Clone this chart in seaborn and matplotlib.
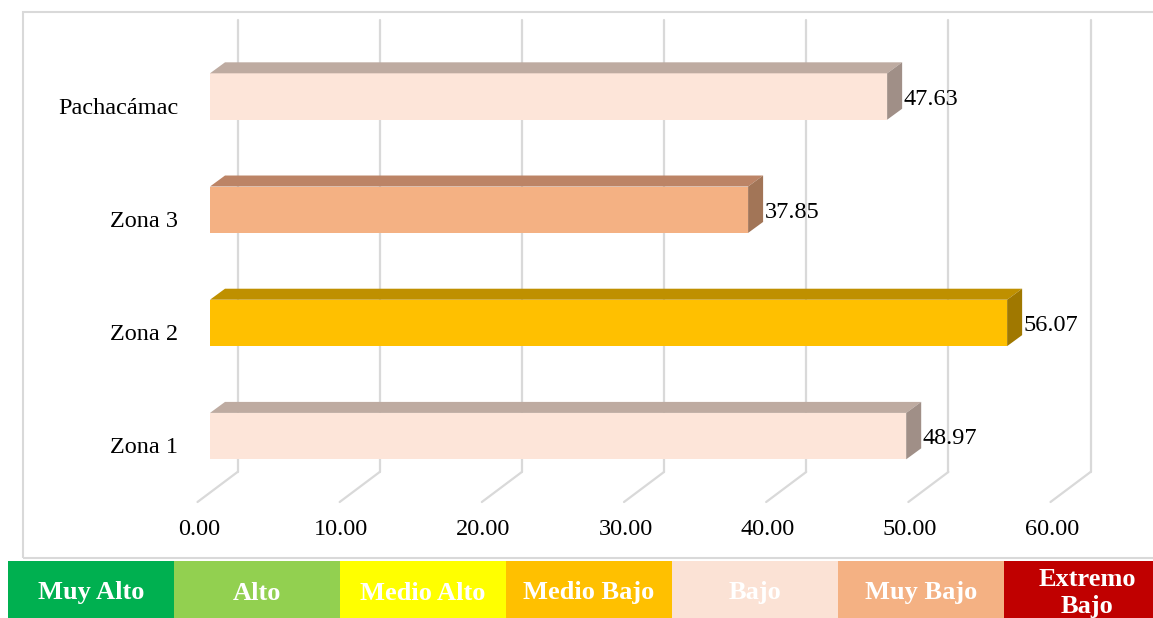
import numpy as np
import pandas as pd
import seaborn as sns
import matplotlib.pyplot as plt
from matplotlib.patches import Polygon, Rectangle
from matplotlib.colors import ListedColormap
from matplotlib.transforms import ScaledTranslation

# Data
zonas = ["Pachacámac", "Zona 3", "Zona 2", "Zona 1"]
valores = [47.63, 37.85, 56.07, 48.97]
ticks = [0, 10, 20, 30, 40, 50, 60]

# colours of each bar: front, top and side faces
frente = ["#FDE5D9", "#F4B183", "#FFC000", "#FDE5D9"]
techo = ["#BEABA1", "#BC8466", "#BF9000", "#BEABA1"]
lado = ["#A08F87", "#A27557", "#A07800", "#A08F87"]

niveles = ["Muy Alto", "Alto", "Medio Alto", "Medio Bajo", "Bajo", "Muy Bajo", "Extremo\nBajo"]
colores_niv = ["#00B050", "#92D050", "#FFFF00", "#FFC000", "#FBE2D5", "#F4B183", "#C00000"]

W, H = 1153, 618
sns.set_theme(style="white")
plt.rcParams["font.family"] = ["Liberation Serif", "DejaVu Serif"]

fig = plt.figure(figsize=(W / 100, H / 100), dpi=100)


def fx(px):
    return px / W


def fy(py):
    return 1 - py / H


# outer chart frame
fig.patches.append(Rectangle((fx(23), fy(558)), fx(1170) - fx(23), fy(12) - fy(558),
                             transform=fig.transFigure, fill=False,
                             edgecolor="#D9D9D9", lw=1.5))

# main axes: front plane of the bars
ax = fig.add_axes([fx(210), fy(472), fx(1063) - fx(210), fy(20) - fy(472)])
df = pd.DataFrame({"zona": zonas, "valor": valores})
sns.barplot(data=df, x="valor", y="zona", hue="zona", palette=frente, width=0.41,
            saturation=1, legend=False, ax=ax, zorder=2, linewidth=0)
ax.set_xlim(0, 60)
ax.set_ylim(3.317, -0.676)

ux = (1063 - 210) / 60.0          # px per unit (x)
uy = (472 - 20) / (3.317 + 0.676)  # px per category (y)
ddx, ddy = 15 / ux, 11 / uy        # bar depth
off = 27.5 / ux                    # back wall offset

# back wall gridlines + floor diagonals
for t in ticks:
    ax.plot([t + off, t + off], [-0.676, 3.317], color="#D9D9D9", lw=1.6,
            zorder=0.5, clip_on=False)
    ax.plot([t + off, t + off - 40 / ux], [3.317, 3.317 + 30 / uy], color="#D9D9D9",
            lw=1.6, zorder=0.5, clip_on=False)

# 3D faces on top of the seaborn bars
for p in ax.patches:
    y0, h, v = p.get_y(), p.get_height(), p.get_width()
    i = int(round(y0 + h / 2))
    top = y0  # inverted axis: smaller y is higher
    ax.add_patch(Polygon([(0, top), (v, top), (v + ddx, top - ddy), (ddx, top - ddy)],
                         closed=True, facecolor=techo[i], edgecolor="none", zorder=2))
    ax.add_patch(Polygon([(v, top), (v + ddx, top - ddy), (v + ddx, top + h - ddy),
                          (v, top + h)], closed=True, facecolor=lado[i],
                         edgecolor="none", zorder=2))
    ax.annotate(f"{valores[i]:.2f}", (v, i), xytext=(11.8, -2), textcoords="offset points",
                ha="left", va="center", fontsize=17.5, color="black")

sns.despine(ax=ax, left=True, bottom=True)
ax.set_xticks(ticks)
ax.set_xticklabels([f"{t:.2f}" for t in ticks])
ax.set_xlabel("")
ax.set_ylabel("")
ax.tick_params(axis="x", length=0, pad=34, labelsize=17.5, labelcolor="black")
ax.tick_params(axis="y", length=0, pad=23, labelsize=17.5, labelcolor="black")
for lab in ax.get_xticklabels():
    lab.set_transform(lab.get_transform() + ScaledTranslation(-0.11, 0, fig.dpi_scale_trans))
for lab in ax.get_yticklabels():
    lab.set_transform(lab.get_transform() + ScaledTranslation(0, -0.09, fig.dpi_scale_trans))
ax.set_facecolor("none")

# level legend strip
ax2 = fig.add_axes([fx(8), fy(625), fx(1170) - fx(8), fy(561) - fy(625)])
sns.heatmap(np.arange(len(niveles)).reshape(1, -1), cmap=ListedColormap(colores_niv),
            cbar=False, annot=np.array([niveles]), fmt="",
            annot_kws=dict(color="white", weight="bold", fontsize=19, linespacing=1.25),
            xticklabels=False, yticklabels=False, ax=ax2)

fig.savefig("out.png", dpi=100, facecolor="white")
